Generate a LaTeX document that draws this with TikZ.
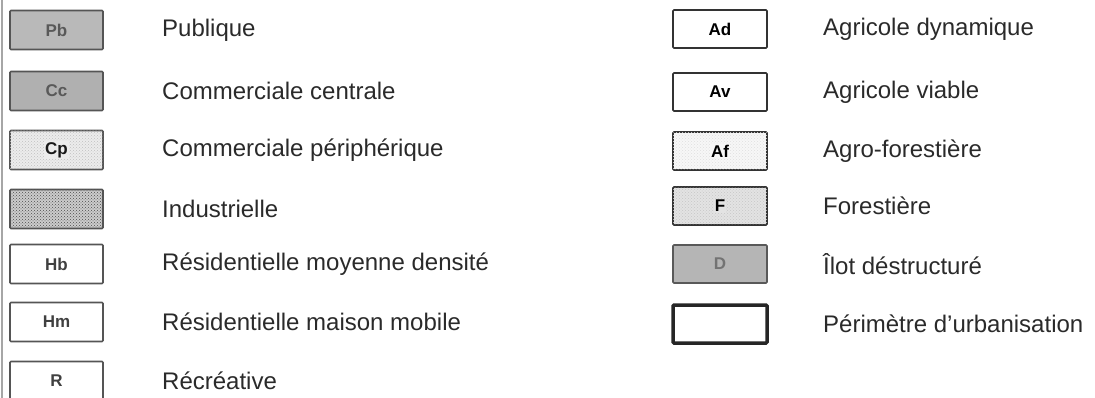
\documentclass[tikz,border=0pt]{standalone}
\usepackage{fontspec}
\setmainfont{Liberation Sans}
\usetikzlibrary{patterns}
\definecolor{txt}{HTML}{2a2a2a}
\definecolor{bord}{HTML}{555555}
\tikzset{
  box/.style={draw=bord, line width=1.6pt, rounded corners=1pt, minimum width=93pt, minimum height=39pt, inner sep=0pt, font=\fontsize{17}{20}\selectfont\bfseries},
  rbox/.style={box, draw=black!80, minimum width=94pt, minimum height=38pt},
  lab/.style={anchor=west, inner sep=0pt, text=txt, font=\fontsize{24}{28}\selectfont},
  boxtxt/.style={font=\fontsize{17}{20}\selectfont\bfseries, inner sep=1pt},
}
\begin{document}
\begin{tikzpicture}[x=1pt,y=1pt]
\useasboundingbox (0,0) rectangle (1095,-398);
\draw[gray!70, line width=1.5pt] (2,0) -- (2,-398);
% left column
\node[box, fill=gray!55, text=black!65] (pb) at (56.5,-30) {Pb};
\node[box, fill=gray!62, text=black!65] (cc) at (56.5,-91) {Cc};
\node[box, fill=gray!15, postaction={pattern=crosshatch dots, pattern color=gray!50}] (cp) at (56.5,-150) {};
\node[boxtxt, fill=gray!15, text=black!90] (cpt) at (cp) {Cp};
\node[box, fill=gray!40, postaction={pattern=crosshatch dots, pattern color=black!70}] (in) at (56.5,-209) {};
\node[box, fill=white, text=black!75] (hb) at (56.5,-264) {Hb};
\node[box, fill=white, text=black!75] (hm) at (56.5,-322) {Hm};
\node[box, fill=white, text=black!75] (r) at (56.5,-381) {R};
\node[lab] (lpb) at (162,-30) {Publique};
\node[lab] (lcc) at (162,-91) {Commerciale centrale};
\node[lab] (lcp) at (162,-150) {Commerciale périphérique};
\node[lab] (lin) at (162,-209) {Industrielle};
\node[lab] (lhb) at (162,-264) {Résidentielle moyenne densité};
\node[lab] (lhm) at (162,-322) {Résidentielle maison mobile};
\node[lab] (lr) at (162,-381) {Récréative};
% right column
\node[rbox, fill=white] (ad) at (720,-29) {Ad};
\node[rbox, fill=white] (av) at (720,-92) {Av};
\node[rbox, fill=gray!6, postaction={pattern=crosshatch dots, pattern color=gray!25}] (af) at (720,-151) {};
\node[boxtxt, fill=gray!6] (aft) at (af) {Af};
\node[rbox, fill=gray!22, postaction={pattern=crosshatch dots, pattern color=gray!45}] (f) at (720,-206) {};
\node[boxtxt, fill=gray!22] (ft) at (f) {F};
\node[rbox, draw=gray!70!black, fill=gray!58, text=black!55] (d) at (720,-264) {D};
\node[rbox, fill=white, draw=black!85, line width=3.5pt] (pu) at (720,-324) {};
\node[lab] (lad) at (823,-29) {Agricole dynamique};
\node[lab] (lav) at (823,-92) {Agricole viable};
\node[lab] (laf) at (823,-151) {Agro-forestière};
\node[lab] (lf) at (823,-206) {Forestière};
\node[lab] (ld) at (823,-264) {Îlot déstructuré};
\node[lab] (lpu) at (823,-324) {Périmètre d'urbanisation};
\end{tikzpicture}
\end{document}
